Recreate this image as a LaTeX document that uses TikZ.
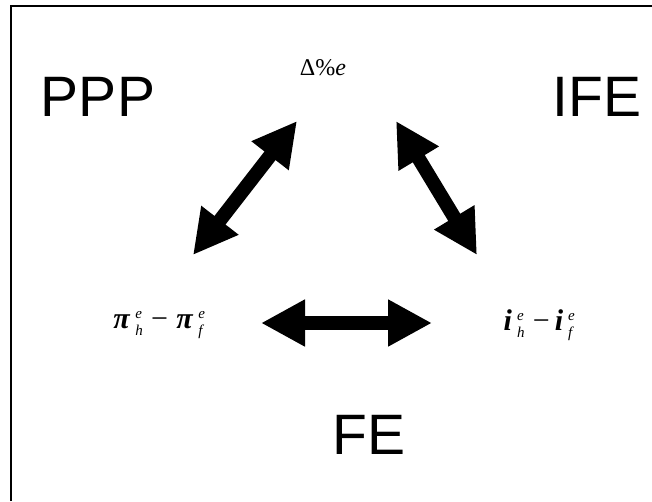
\documentclass[tikz,border=0pt]{standalone}
\usepackage{fontspec}
\setmainfont{Liberation Serif}
\newfontfamily\arialf{Liberation Sans}
\usetikzlibrary{arrows.meta}
\newcommand{\ssx}[2]{\,\rlap{\raisebox{10pt}{\fontsize{15}{15}\selectfont\itshape #1}}\raisebox{-7pt}{\fontsize{15}{15}\selectfont\itshape #2}}
\begin{document}
\begin{tikzpicture}[x=1pt,y=-1pt,
  big/.style={font=\arialf\fontsize{57}{60}\selectfont, inner sep=0pt},
  lab/.style={font=\fontsize{24}{26}\selectfont, inner sep=0pt},
  dbl/.style={line width=14pt, {Triangle[length=44pt,width=44pt]}-{Triangle[length=44pt,width=44pt]}}]
\useasboundingbox (0,0) rectangle (652,501);
\draw[line width=2pt] (10.5,501) -- (10.5,5.5) -- (652,5.5);
\node[big] (ppp) at (98,97) {PPP};
\node[big] (ife) at (597,97) {IFE};
\node[big] (fe) at (369,435) {FE};
\node[lab] (top) at (323,68) {Δ\%\textit{e}};
\node[lab,font=\fontsize{30}{32}\selectfont] (left) at (158,325) {\textbf{\textit{π}}\ssx{e}{h}\;−\;\textbf{\textit{π}}\ssx{e}{f}};
\node[lab,font=\fontsize{30}{32}\selectfont] (right) at (538,325) {\textbf{\textit{i}}\ssx{e}{h}\;−\,\textbf{\textit{i}}\ssx{e}{f}};
\coordinate (a1) at (193,255);
\coordinate (a2) at (297,121);
\coordinate (b1) at (396,121);
\coordinate (b2) at (477,255);
\coordinate (c1) at (261,323);
\coordinate (c2) at (432,323);
\draw[dbl] (a1) -- (a2);
\draw[dbl] (b1) -- (b2);
\draw[dbl] (c1) -- (c2);
\end{tikzpicture}
\end{document}
